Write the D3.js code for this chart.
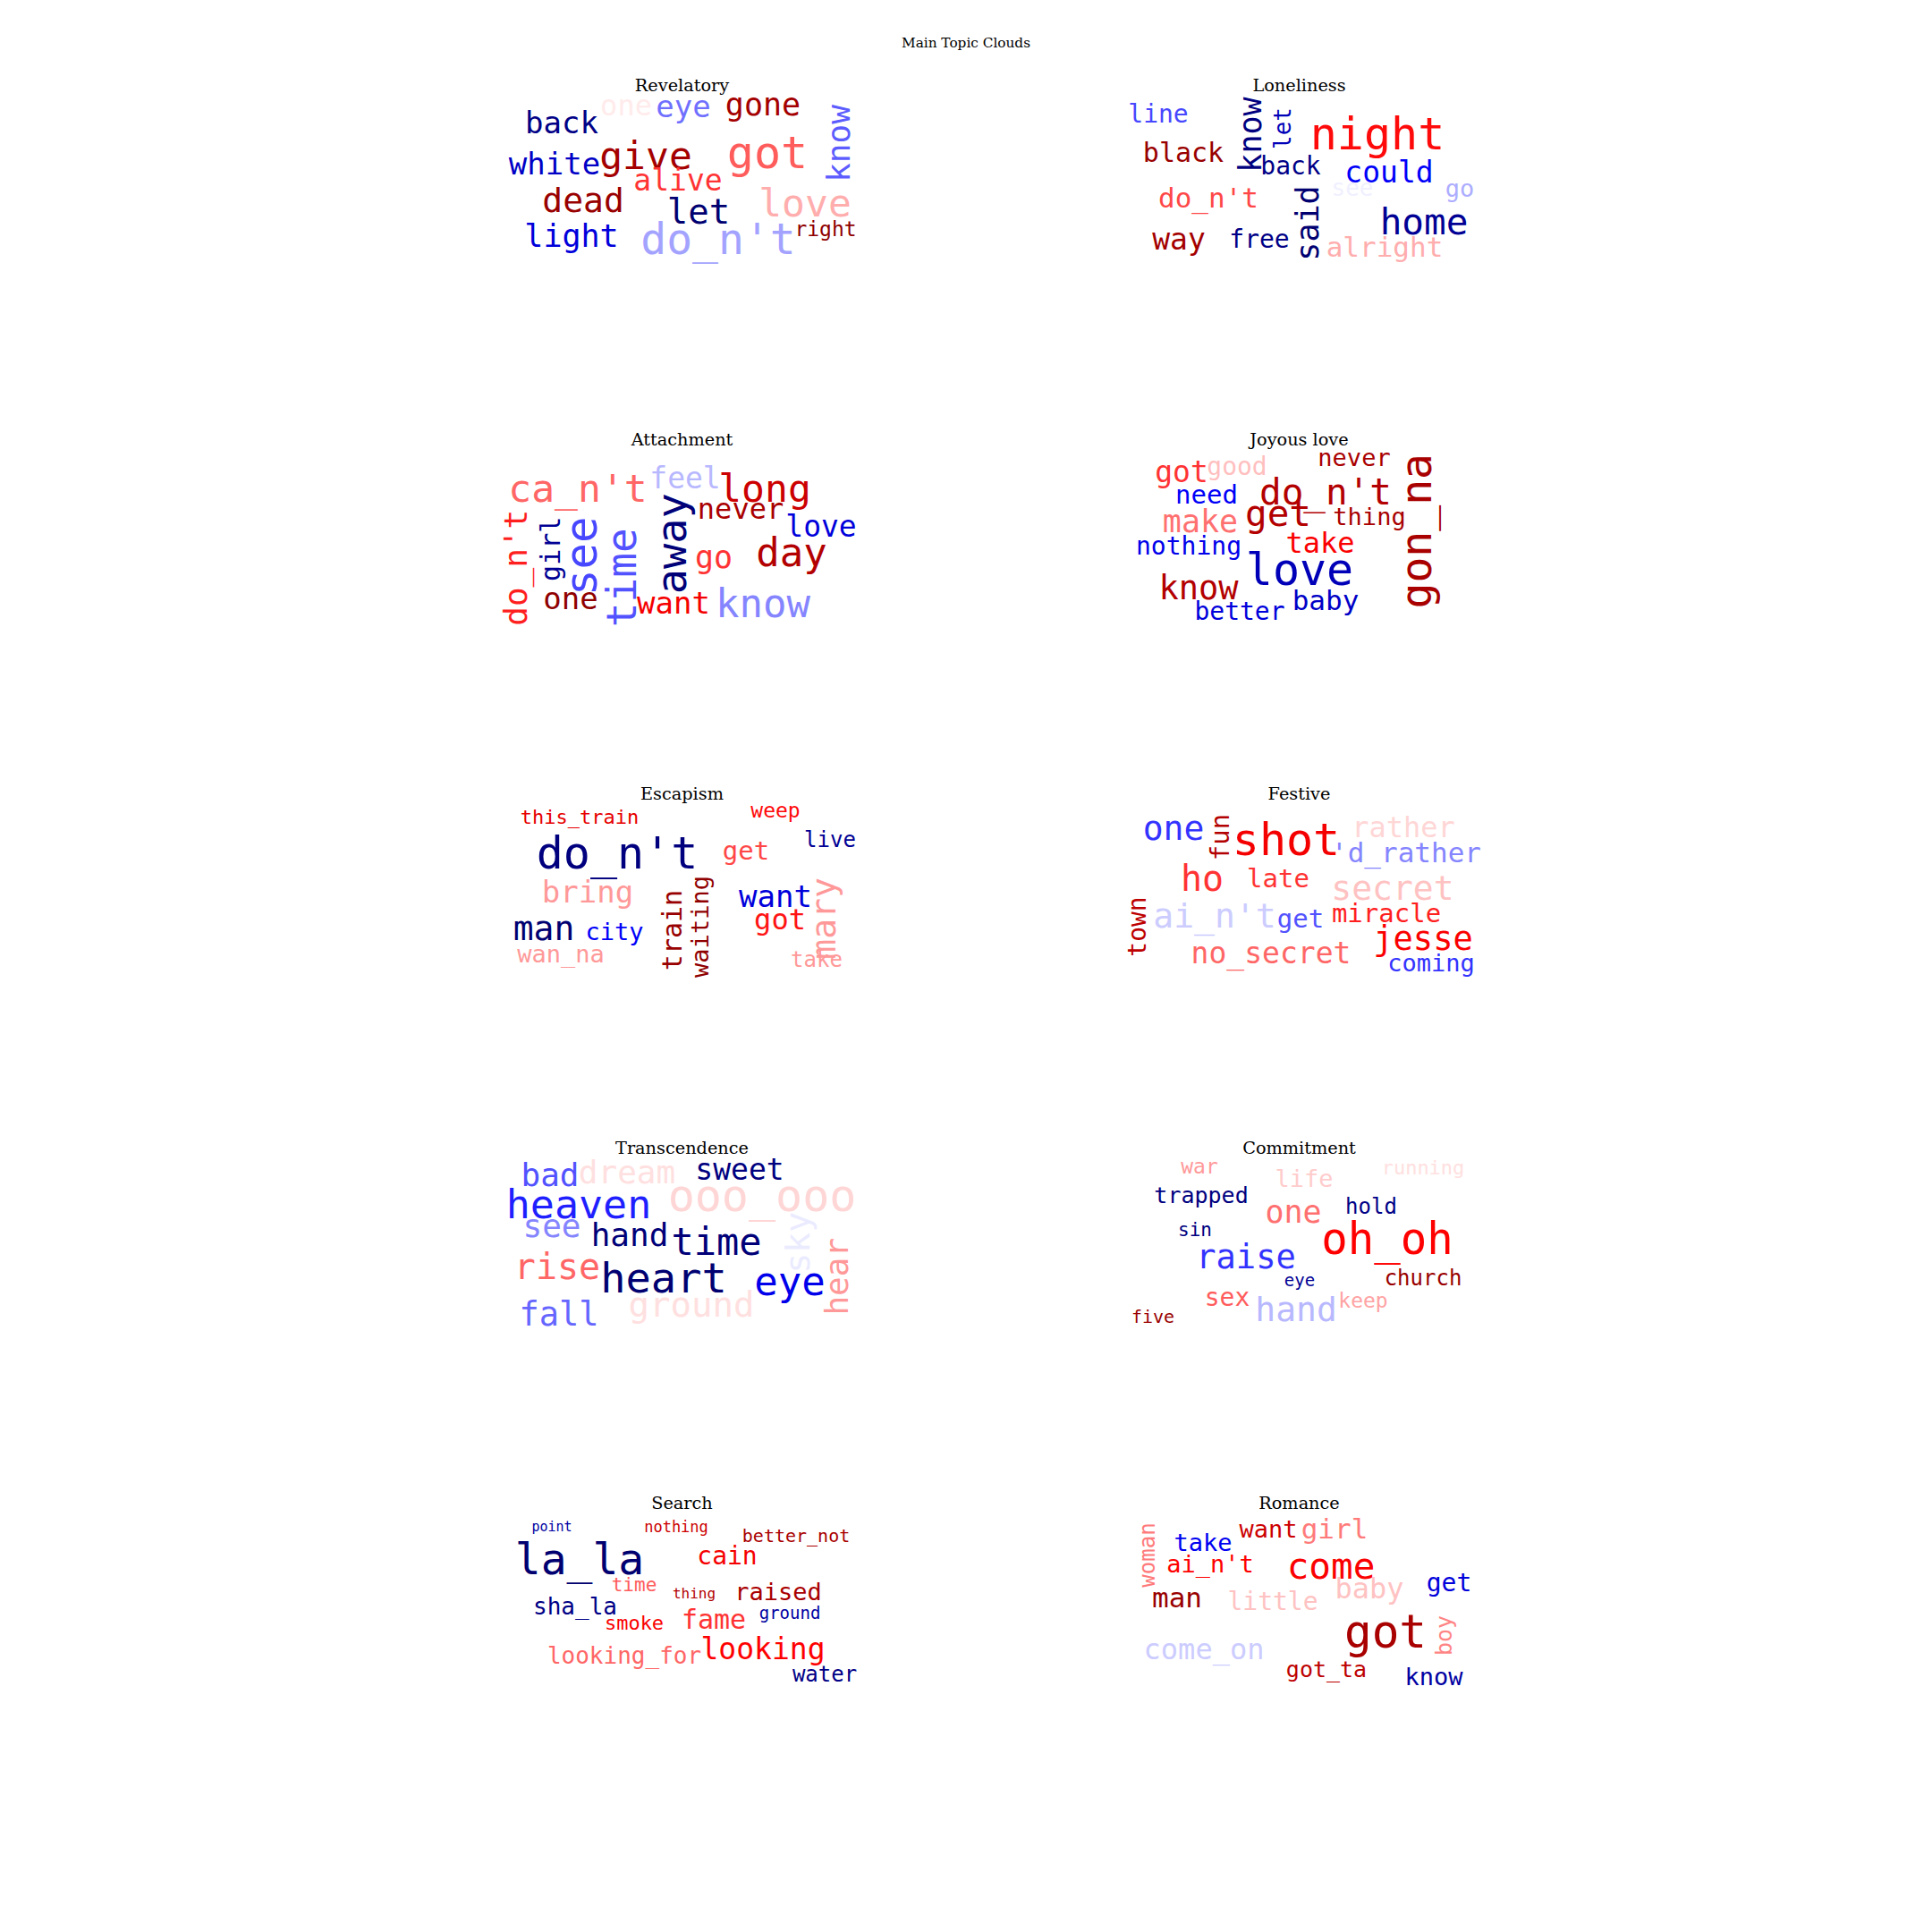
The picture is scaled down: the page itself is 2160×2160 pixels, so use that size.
<!DOCTYPE html>
<html>
<head>
<meta charset="utf-8">
<script src="https://cdn.jsdelivr.net/npm/d3@7"></script>
<style>
  html, body { margin: 0; padding: 0; background: #ffffff; }
  svg { display: block; }
</style>
</head>
<body>
<div id="chart"></div>
<script>
// ---- DATA ----
// Figure title and topic names (reading order: left → right, top → bottom)
const figureTitle = "Main Topic Clouds";
const topicNames = ["Revelatory", "Loneliness", "Attachment", "Joyous love", "Escapism",
                    "Festive", "Transcendence", "Commitment", "Search", "Romance"];

// Each word: [text, cloudX, cloudY, weight(font px in cloud), colormap value (seismic 0..1), rotated(1 = vertical)]
// cloudX/cloudY are positions inside the 460 x 230 cloud panel (x = word centre, y = baseline;
// for vertical words x = baseline, y = centre).
const revelatoryWords = [
  ["one",160,47,32,.52,0], ["eye",224,49,34,.36,0], ["gone",313,47,35,.93,0],
  ["back",88,67,34,.08,0], ["white",80,113,34,.17,0], ["give",182,107,43,.93,0],
  ["got",318,106,50,.66,0], ["know",410,79,36,.34,1], ["alive",218,131,33,.70,0],
  ["dead",112,155,38,.95,0], ["let",241,168,39,.05,0], ["love",360,160,43,.58,0],
  ["right",383,182,23,.97,0], ["light",99,194,35,.20,0], ["do_n't",263,202,48,.41,0]
];
const lonelinessWords = [
  ["line",65,55,28,.32,0], ["black",93,99,30,.95,0], ["know",180,69,35,.07,1],
  ["let",213,62,26,.15,1], ["night",310,85,50,.74,0], ["back",213,113,28,.08,0],
  ["could",323,122,33,.24,0], ["see",282,137,26,.485,0], ["go",402,138,27,.42,0],
  ["do_n't",121,150,31,.68,0], ["said",244,168,35,.05,1], ["home",362,180,41,.10,0],
  ["way",88,197,33,.93,0], ["free",178,195,28,.08,0], ["alright",318,205,31,.58,0]
];
const attachmentWords = [
  ["ca_n't",106,83,43,.65,0], ["feel",226,68,33,.43,0], ["long",315,83,43,.85,0],
  ["away",227,130,47,.06,1], ["never",288,102,32,.92,0], ["love",378,122,33,.20,0],
  ["do_n't",49,157,36,.72,1], ["girl",86,136,30,.10,1], ["see",127,144,49,.32,1],
  ["time",171,168,46,.33,1], ["go",258,157,35,.70,0], ["day",345,155,44,.90,0],
  ["one",98,203,34,.97,0], ["want",213,208,34,.77,0], ["know",313,212,44,.38,0]
];
const joyousLoveWords = [
  ["got",91,61,33,.70,0], ["good",153,53,28,.5625,0], ["never",284,43,27,.92,0],
  ["do_n't",252,86,41,.90,0], ["gon_na",370,116,48,.92,1], ["need",119,85,29,.24,0],
  ["get",199,110,41,.90,0], ["thing",301,109,27,.92,0], ["make",112,117,35,.64,0],
  ["take",246,140,32,.76,0], ["nothing",99,142,28,.22,0], ["love",223,176,50,.15,0],
  ["know",110,192,37,.90,0], ["baby",252,204,31,.17,0], ["better",156,215,28,.20,0]
];
const escapismWords = [
  ["this_train",108,47,22,.80,0], ["weep",327,40,23,.74,0], ["live",388,73,24,.10,0],
  ["do_n't",150,97,50,.07,0], ["get",294,87,29,.68,0], ["bring",117,135,34,.60,0],
  ["train",222,166,30,.95,1], ["waiting",252,162,27,.97,1], ["want",327,140,34,.20,0],
  ["mary",394,153,38,.60,1], ["got",332,165,32,.73,0], ["man",68,177,38,.05,0],
  ["city",147,177,27,.24,0], ["wan_na",87,202,27,.60,0], ["take",373,207,24,.60,0]
];
const festiveWords = [
  ["one",82,65,38,.30,0], ["fun",144,62,29,.90,1], ["shot",208,82,50,.77,0],
  ["rather",339,62,32,.54,0], ["'d_rather",342,90,31,.38,0], ["ho",114,122,40,.70,0],
  ["late",199,118,29,.70,0], ["secret",327,132,38,.56,0], ["town",51,162,28,.88,1],
  ["ai_n't",128,163,38,.45,0], ["get",224,163,29,.33,0], ["miracle",320,157,29,.72,0],
  ["jesse",361,188,37,.76,0], ["no_secret",191,203,33,.65,0], ["coming",370,212,27,.30,0]
];
const transcendenceWords = [
  ["bad",75,56,36,.33,0], ["dream",161,53,36,.53,0], ["sweet",287,49,33,.07,0],
  ["heaven",107,92,45,.28,0], ["ooo_ooo",312,84,50,.54,0], ["see",77,113,36,.38,0],
  ["hand",164,123,36,.06,0], ["time",261,133,42,.06,0], ["sky",365,119,38,.48,1],
  ["hear",408,157,36,.60,1], ["rise",83,160,40,.65,0], ["heart",202,175,47,.05,0],
  ["eye",343,178,44,.22,0], ["fall",85,212,37,.35,0], ["ground",233,202,39,.53,0]
];
const commitmentWords = [
  ["war",111,42,23,.60,0], ["life",228,57,27,.55,0], ["running",361,43,22,.53,0],
  ["trapped",113,75,25,.07,0], ["hold",303,87,24,.08,0], ["one",216,97,35,.64,0],
  ["sin",106,112,21,.07,0], ["oh_oh",321,132,49,.75,0], ["raise",163,148,37,.30,0],
  ["church",361,167,24,.95,0], ["eye",223,168,19,.10,0], ["sex",142,190,28,.66,0],
  ["hand",219,207,38,.43,0], ["keep",294,192,23,.59,0], ["five",59,209,20,.95,0]
];
const searchWords = [
  ["point",77,45,15,.12,0], ["nothing",216,46,17,.85,0], ["better_not",350,57,20,.92,0],
  ["la_la",108,93,48,.05,0], ["cain",273,82,28,.77,0], ["time",169,112,21,.66,0],
  ["thing",236,120,16,.90,0], ["raised",330,122,27,.92,0], ["sha_la",103,138,26,.08,0],
  ["ground",343,143,19,.12,0], ["smoke",169,155,22,.76,0], ["fame",258,154,30,.70,0],
  ["looking",313,188,33,.75,0], ["looking_for",158,193,26,.65,0], ["water",382,213,24,.08,0]
];
const romanceWords = [
  ["woman",61,72,24,.63,1], ["want",188,52,27,.85,0], ["girl",262,53,31,.63,0],
  ["take",115,67,27,.23,0], ["ai_n't",123,91,27,.75,0], ["come",258,98,41,.76,0],
  ["get",390,112,28,.20,0], ["man",86,130,31,.95,0], ["little",193,133,28,.56,0],
  ["baby",301,120,32,.56,0], ["got",319,175,51,.92,0], ["boy",393,162,25,.62,1],
  ["come_on",116,188,32,.45,0], ["got_ta",253,208,25,.88,0], ["know",373,217,27,.12,0]
];
const topicWords = [revelatoryWords, lonelinessWords, attachmentWords, joyousLoveWords, escapismWords,
                    festiveWords, transcendenceWords, commitmentWords, searchWords, romanceWords];

// ---- LAYOUT ----
const W = 2160, H = 2160;
const panelW = 460, panelH = 230;
const nCols = 2, nRows = 5;
const colX = d3.scaleOrdinal().domain([0, 1]).range([540, 1230]);
const rowY = d3.scaleLinear().domain([0, nRows - 1]).range([81.5, 1666.5]);

// seismic colormap
const seismic = d3.scaleLinear()
  .domain([0, 0.25, 0.5, 0.75, 1])
  .range(["#00004d", "#0000ff", "#ffffff", "#ff0000", "#800000"])
  .interpolate(d3.interpolateRgb);
const fontScale = d3.scaleLinear().domain([0, 100]).range([0, 100]);

const svg = d3.select("#chart").append("svg")
  .attr("width", W).attr("height", H)
  .attr("viewBox", `0 0 ${W} ${H}`);
svg.append("rect").attr("width", W).attr("height", H).attr("fill", "#fff");

svg.append("text")
  .attr("x", W / 2).attr("y", 53)
  .attr("text-anchor", "middle")
  .attr("font-family", "DejaVu Serif")
  .attr("font-size", 15.3)
  .attr("fill", "#000")
  .text(figureTitle);

topicNames.forEach((name, i) => {
  const col = i % nCols, row = Math.floor(i / nCols);
  const x = d3.scaleLinear().domain([0, panelW]).range([colX(col), colX(col) + panelW]);
  const y = d3.scaleLinear().domain([0, panelH]).range([rowY(row), rowY(row) + panelH]);
  const g = svg.append("g").attr("class", "panel");

  g.append("text")
    .attr("x", x(222.5)).attr("y", y(20))
    .attr("text-anchor", "middle")
    .attr("font-family", "DejaVu Serif")
    .attr("font-size", 19.3)
    .attr("fill", "#000")
    .text(name);

  g.selectAll("text.word")
    .data(topicWords[i])
    .join("text")
    .attr("class", "word")
    .attr("text-anchor", "middle")
    .attr("font-family", "'DejaVu Sans Mono', monospace")
    .attr("font-size", d => fontScale(d[3]))
    .attr("fill", d => seismic(d[4]))
    .attr("transform", d => d[5]
      ? `translate(${x(d[1])},${y(d[2])}) rotate(-90)`
      : `translate(${x(d[1])},${y(d[2])})`)
    .text(d => d[0]);
});
</script>
</body>
</html>
